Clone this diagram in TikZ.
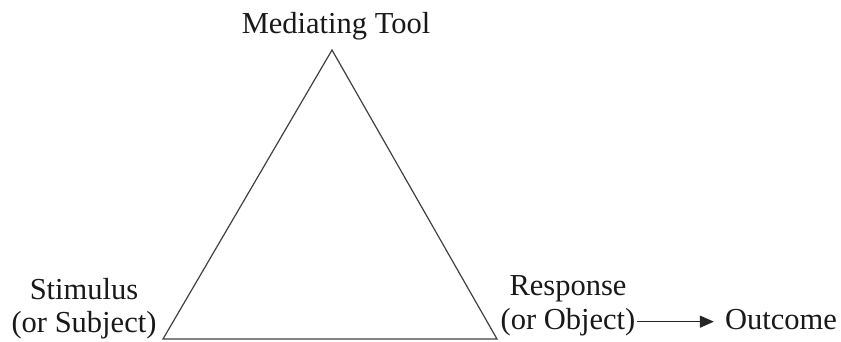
\documentclass[tikz,border=0pt]{standalone}
\usepackage{fontspec}
\setmainfont{Liberation Serif}
\usetikzlibrary{arrows.meta}
\begin{document}
\begin{tikzpicture}[x=1pt,y=1pt,
  lbl/.style={inner sep=0pt, anchor=base, text=black!90, font=\fontsize{30.5}{31}\selectfont},
  edge/.style={draw=black!75, line width=1.2pt, line join=miter},
  conn/.style={draw=black!85, line width=1.3pt, -{Triangle[length=14pt,width=12pt]}}]
\useasboundingbox (0,0) rectangle (841,341);
% triangle vertices
\coordinate (apex) at (332,291);
\coordinate (left) at (163,2);
\coordinate (right) at (497,2);
\draw[edge] (apex) -- (left) -- (right) -- cycle;
% labels
\node[lbl] (tool) at (336,308) {Mediating Tool};
\node[lbl] (stim1) at (84,42) {Stimulus};
\node[lbl] (stim2) at (84,9) {(or Subject)};
\node[lbl] (resp1) at (568,46) {Response};
\node[lbl] (resp2) at (568,12) {(or Object)};
\node[lbl] (out) at (781,12) {Outcome};
\draw[conn, shorten <=1pt, shorten >=11pt] (resp2.east) -- (resp2.east -| out.west);
\end{tikzpicture}
\end{document}
